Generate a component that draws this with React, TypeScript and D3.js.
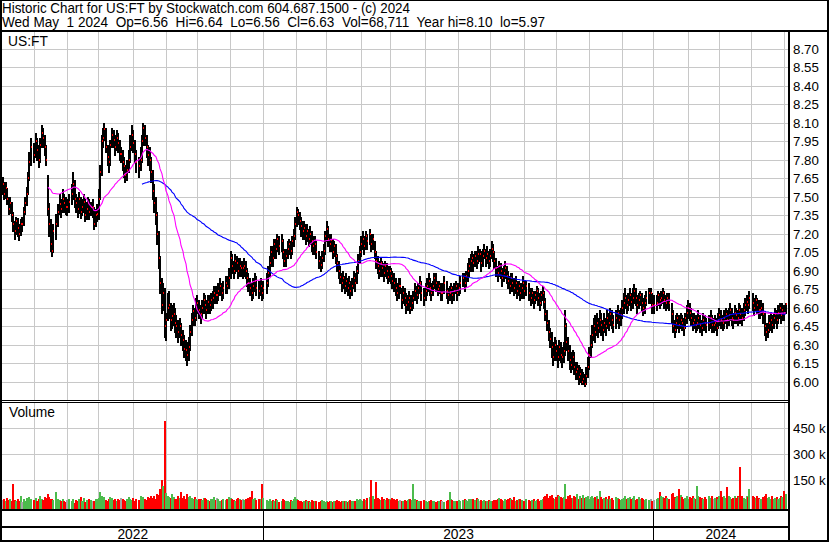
import React, { useEffect } from "react";
import * as d3 from "d3";

// ---------- texts ----------
const TITLE_LINE_1 = "Historic Chart for US:FT by Stockwatch.com 604.687.1500 - (c) 2024";
const TITLE_LINE_2 = "Wed May  1 2024  Op=6.56  Hi=6.64  Lo=6.56  Cl=6.63  Vol=68,711  Year hi=8.10  lo=5.97";
const SYMBOL = "US:FT";
const VOLUME_LABEL = "Volume";

// ---------- calendar ----------
const FIRST_DAY = "2022-05-02";
const LAST_DAY = "2024-05-01";
const HOLIDAYS = [
  "2022-05-30", "2022-06-20", "2022-07-04", "2022-09-05", "2022-11-24", "2022-12-26",
  "2023-01-02", "2023-01-16", "2023-02-20", "2023-04-07", "2023-05-29", "2023-06-19",
  "2023-07-04", "2023-09-04", "2023-11-23", "2023-12-25",
  "2024-01-01", "2024-01-15", "2024-02-19", "2024-03-29",
];

// ---------- daily prices (cents) ----------
const CLOSE = [
  760,752,757,748,740,745,735,728,722,730,725,720,728,728,738,745,752,
  765,778,790,784,795,788,780,792,802,798,790,
  780,740,728,712,706,722,728,
  738,744,740,748,745,742,742,746,752,760,748,
  745,740,748,738,742,746,735,740,745,738,742,742,728,735,736,748,
  770,795,798,805,790,782,778,792,800,796,790,798,794,785,785,778,775,768,772,
  780,790,800,794,785,778,775,780,795,806,798,790,784,
  780,770,755,745,735,720,700,
  680,662,672,645,650,
  660,662,650,653,655,648,645,640,645,638,
  634,627,626,622,628,
  640,650,657,652,661,664,658,
  655,660,666,662,658,665,662,666,
  668,672,670,670,674,678,672,676,680,678,684,
  700,694,690,698,696,690,694,692,692,694,690,
  684,680,676,672,678,682,676,674,678,672,676,680,
  688,696,705,700,712,708,716,710,714,
  705,698,702,708,712,706,714,718,
  728,738,735,730,726,722,
  725,718,722,716,720,714,710,712,
  705,698,695,700,706,
  718,724,716,
  712,715,705,710,702,696,
  690,685,680,684,678,682,676,680,674,678,684,680,
  690,698,705,
  712,716,710,718,714,720,712,716,705,
  698,694,690,696,692,688,694,690,685,690,686,682,
  680,676,672,678,678,666,672,668,662,665,668,660,664,
  668,674,670,676,680,672,668,674,678,
  682,676,672,678,684,680,675,678,672,672,680,674,670,
  672,676,670,674,678,672,676,680,684,680,686,690,694,698,
  700,696,702,698,704,704,696,702,706,700,704,698,702,708,705,
  698,692,688,694,690,684,688,692,686,
  682,678,684,680,676,680,674,678,672,676,680,674,678,
  672,668,672,666,670,674,668,664,670,672,
  665,655,648,640,635,628,620,630,625,620,
  628,622,620,625,645,
  632,625,618,614,620,612,608,
  610,604,606,600,602,598,605,612,
  622,630,638,645,
  640,648,644,650,646,642,
  648,645,652,648,655,650,646,652,656,650,654,
  660,664,668,662,666,670,665,668,674,
  668,662,666,670,664,660,664,668,672,672,662,662,664,670,666,668,672,666,664,668,664,
  655,645,642,
  648,652,646,650,648,644,652,656,
  660,656,652,648,
  650,646,648,652,646,644,650,648,646,
  648,652,646,646,648,644,650,654,650,648,652,655,650,
  654,658,652,650,656,654,652,658,655,652,658,662,
  665,662,668,664,660,666,662,658,658,660,655,
  645,640,642,648,
  650,646,652,655,650,
  656,660,654,658,656,663,
];

const HIGH = [
  766,762,762,757,750,750,746,738,730,734,733,728,732,734,742,750,758,
  770,786,798,794,802,798,792,798,808,806,800,
  792,768,745,732,720,728,736,
  744,752,748,756,752,750,748,752,760,770,764,
  752,750,754,750,748,752,748,746,750,748,746,748,742,740,744,756,
  776,800,806,810,806,792,786,796,806,804,800,804,802,796,790,788,782,776,780,
  788,800,808,804,796,788,782,790,800,810,808,800,792,
  790,782,772,760,750,738,722,
  702,684,680,676,656,
  672,674,664,662,664,660,654,650,652,648,
  642,638,634,632,636,
  646,656,662,660,668,670,666,
  662,666,672,670,666,670,670,672,
  674,678,678,676,680,684,680,682,686,686,692,
  706,704,698,704,702,700,700,698,698,700,698,
  692,688,684,680,684,688,686,682,684,680,682,688,
  694,702,710,710,716,716,720,718,720,
  716,708,708,714,716,714,718,724,
  734,742,740,738,734,730,
  730,728,728,724,726,722,718,718,
  714,706,702,706,712,
  722,730,726,
  720,720,716,714,712,704,
  698,694,688,690,686,688,684,686,682,684,690,688,
  694,704,710,
  718,722,718,722,720,724,720,720,714,
  706,702,698,700,698,696,698,696,694,694,692,690,
  688,684,680,684,684,676,678,676,672,670,674,670,670,
  674,680,678,680,686,682,676,680,684,
  688,684,680,682,688,688,682,682,680,680,686,682,676,
  678,680,678,680,682,680,680,686,688,688,690,696,700,704,
  706,704,706,706,710,708,706,708,712,708,710,706,708,714,712,
  706,700,694,698,696,692,694,698,694,
  690,686,688,688,684,686,682,682,680,680,686,682,682,
  680,676,676,674,674,678,676,672,674,678,
  674,668,658,650,644,640,632,636,634,630,
  634,632,628,632,658,
  648,636,630,624,626,624,616,
  616,614,612,610,608,606,612,620,
  628,638,646,652,
  654,656,652,658,656,650,
  656,652,658,656,660,658,654,658,662,658,660,
  666,672,676,670,672,676,672,676,679,
  676,670,672,674,672,668,670,674,676,676,672,670,670,674,672,674,676,674,670,672,672,
  664,658,650,
  654,656,654,656,654,652,656,662,
  666,664,660,656,
  656,654,654,658,654,650,656,654,652,
  654,658,654,652,654,652,656,660,658,654,658,660,658,
  660,664,660,656,662,660,658,664,662,660,664,668,
  670,668,674,672,668,670,668,666,664,666,664,
  656,648,648,654,
  656,654,656,660,658,
  662,664,662,664,662,664,
];

const LOW = [
  752,748,749,744,736,737,730,722,716,720,718,715,719,722,727,736,743,
  752,764,776,778,782,780,774,778,790,790,784,
  776,735,718,706,702,705,716,
  726,736,734,738,738,736,735,738,744,748,742,
  738,734,737,733,735,738,730,732,736,732,735,734,724,726,730,732,
  748,768,790,796,786,776,770,776,790,790,784,788,786,780,778,772,766,762,764,
  770,778,788,786,778,770,766,772,778,792,792,782,776,
  772,762,748,738,728,712,692,
  672,656,658,636,634,
  650,652,642,644,646,640,636,632,636,630,
  626,620,618,614,618,
  626,638,646,646,650,656,652,
  648,652,656,656,652,656,656,658,
  660,664,664,664,666,670,666,668,672,672,676,
  684,688,684,688,690,684,686,686,684,686,684,
  678,674,670,666,668,674,670,668,670,666,668,672,
  678,686,694,694,700,700,706,704,706,
  700,694,694,700,704,700,704,710,
  716,726,728,724,718,716,
  716,712,714,710,712,706,704,704,
  700,692,690,692,698,
  704,714,710,
  706,706,700,702,696,690,
  684,680,674,676,672,674,670,672,668,670,676,674,
  680,688,696,
  702,708,704,708,708,712,706,708,700,
  692,688,684,686,686,682,686,684,680,682,680,676,
  674,670,666,668,672,660,664,662,656,658,662,656,658,
  660,666,664,668,672,666,662,666,670,
  674,670,666,670,676,674,670,672,666,666,672,668,664,
  666,668,664,666,672,666,670,672,678,674,678,682,686,690,
  692,690,694,692,696,698,690,694,700,694,696,692,694,700,698,
  692,686,682,686,684,678,682,684,680,
  676,672,676,674,670,672,668,670,666,668,672,668,670,
  666,662,664,660,664,666,662,658,662,666,
  660,650,642,634,628,620,614,618,618,612,
  618,616,612,616,622,
  626,618,610,608,610,606,602,
  602,598,600,598,598,597,598,604,
  610,620,628,634,
  632,638,636,640,638,634,
  640,638,644,642,646,644,640,644,648,644,646,
  652,656,660,656,658,662,658,660,664,
  662,656,660,662,658,654,656,662,664,664,656,656,658,662,660,662,664,660,658,660,658,
  648,640,636,
  640,644,640,644,642,638,644,648,
  652,650,646,642,
  644,640,642,644,640,638,642,642,640,
  642,644,640,640,642,638,644,646,644,642,644,648,644,
  646,650,646,644,648,648,646,650,648,646,650,654,
  658,656,660,658,654,658,656,652,652,654,648,
  638,634,636,640,
  642,640,644,648,644,
  648,652,648,650,650,656,
];

// ---------- daily volume (thousands of shares) ----------
const VOLUME = [
  35,42,28,50,38,44,30,130,36,28,45,32,60,25,40,30,48,35,55,42,
  38,50,30,45,62,40,35,55,48,70,52,40,45,38,80,42,35,28,40,30,
  25,38,45,30,42,20,35,28,40,55,32,48,25,38,30,42,35,28,30,45,
  40,50,82,60,45,52,38,30,42,55,48,35,40,28,45,38,50,42,35,30,
  45,55,40,35,48,30,42,38,60,45,52,40,35,55,48,62,50,58,45,70,
  65,100,153,120,493,75,60,55,48,70,52,45,40,58,50,85,48,60,45,70,
  55,62,48,40,52,45,38,44,40,35,48,50,42,38,30,45,40,52,35,48,
  42,30,38,45,35,40,55,48,42,38,30,45,50,40,35,42,38,45,40,48,
  55,90,42,50,38,45,40,130,48,35,30,40,28,35,32,45,38,25,30,40,
  35,28,32,25,38,30,45,55,40,35,30,28,25,32,35,28,30,25,35,30,
  28,32,25,30,35,28,22,30,25,28,32,25,30,28,35,30,25,28,32,30,
  28,25,30,35,28,32,30,40,35,45,38,30,42,35,48,55,153,60,40,140,
  50,45,38,55,42,35,48,40,45,38,50,42,35,40,30,35,28,32,38,30,
  35,40,42,38,130,45,35,30,28,32,35,28,25,30,32,35,28,30,25,32,
  28,35,30,25,32,38,85,40,35,30,28,32,35,30,38,42,35,30,40,45,
  38,42,35,48,40,30,35,32,38,28,30,35,32,28,30,38,35,42,50,40,
  35,30,45,38,42,48,40,35,52,30,38,45,42,35,28,32,40,38,30,35,
  42,32,38,45,30,35,40,55,62,70,48,58,65,50,45,55,68,60,52,48,
  55,127,45,58,65,50,48,62,55,70,45,58,50,65,48,52,60,45,55,62,
  48,55,60,45,90,52,40,48,55,42,60,45,50,38,55,48,42,35,45,50,
  58,40,48,55,42,50,60,38,45,52,40,48,42,35,45,38,40,32,38,45,
  50,80,60,55,48,62,50,45,70,75,55,48,60,98,65,55,42,50,60,45,
  55,48,62,50,45,118,60,52,48,40,55,45,58,50,62,40,48,55,45,60,
  90,52,58,48,110,62,55,45,50,58,48,60,55,225,62,50,45,58,52,98,
  60,55,48,62,50,45,40,55,60,70,48,52,45,58,42,50,55,45,48,60,
  52,90,69,
];

// ---------- axes ----------
const PRICE_TICKS = [6.0, 6.15, 6.3, 6.45, 6.6, 6.75, 6.9, 7.05, 7.2, 7.35, 7.5, 7.65, 7.8, 7.95, 8.1, 8.25, 8.4, 8.55, 8.7];
const VOLUME_TICKS = [150, 300, 450];
const MA_SHORT = 30;
const MA_LONG = 90;

const FONT = "'Liberation Sans', Arial, sans-serif";
const GRID = "#c8c8c8";
const UP = "#4cbb4c";
const DOWN = "#ff0000";
const FLAT = "#a6a6a6";

export default function App() {
  useEffect(() => {
    document.body.style.margin = "0";
  }, []);

  const W = 830, H = 543;
  const plotL = 2, plotR = 788;

  const parse = d3.timeParse("%Y-%m-%d");
  const fmt = d3.timeFormat("%Y-%m-%d");
  const allDays = d3.timeDay.range(parse(FIRST_DAY)!, d3.timeDay.offset(parse(LAST_DAY)!, 1));
  const weekdays = allDays.filter((d) => d.getDay() !== 0 && d.getDay() !== 6);
  const hol = new Set(HOLIDAYS);
  const trading = weekdays.map((d, w) => ({ d, w })).filter((o) => !hol.has(fmt(o.d)));

  const n = Math.min(trading.length, CLOSE.length, HIGH.length, LOW.length, VOLUME.length);
  const bars = d3.range(n).map((i) => ({
    w: trading[i].w,
    c: CLOSE[i] / 100,
    h: HIGH[i] / 100,
    l: LOW[i] / 100,
    v: VOLUME[i],
    dir: i === 0 ? 0 : Math.sign(CLOSE[i] - CLOSE[i - 1]),
  }));

  const x = d3.scaleLinear().domain([0, weekdays.length - 1]).range([2, 785]);
  const yP = d3.scaleLinear().domain([5.85, 8.85]).range([400.3, 30.3]);
  const yV = d3.scaleLinear().domain([0, 600]).range([506.3, 402.3]);
  const bx = (w: number) => Math.floor(x(w));

  // month / year boundaries
  const months: { w: number; year: boolean }[] = [];
  weekdays.forEach((d, w) => {
    if (w > 0 && d.getMonth() !== weekdays[w - 1].getMonth()) {
      months.push({ w, year: d.getFullYear() !== weekdays[w - 1].getFullYear() });
    }
  });
  const gx = (w: number) => Math.floor(x(w) - 1) + 0.5;
  const yearEdges = [plotL, ...months.filter((m) => m.year).map((m) => gx(m.w)), plotR];
  const years = Array.from(new Set(weekdays.map((d) => d.getFullYear())));

  const movingAvg = (p: number) =>
    bars
      .map((b, i) => (i >= p - 1 ? { w: b.w, v: d3.mean(bars.slice(i - p + 1, i + 1), (q) => q.c)! } : null))
      .filter((q): q is { w: number; v: number } => q !== null);
  const maShort = movingAvg(MA_SHORT);
  const maLong = movingAvg(MA_LONG);
  const line = d3
    .line<{ w: number; v: number }>()
    .x((q) => bx(q.w) + 1)
    .y((q) => yP(q.v));

  const textStyle = { fontFamily: FONT, fontSize: 13.3, fill: "#000" } as const;

  return (
    <svg
      width={W}
      height={H}
      viewBox={`0 0 ${W} ${H}`}
      style={{ position: "absolute", left: 0, top: 0, display: "block", background: "#fff" }}
    >
      <rect x={0} y={0} width={W} height={H} fill="#fff" />
      <defs>
        <clipPath id="pclip">
          <rect x={plotL} y={32} width={plotR - plotL} height={368} />
        </clipPath>
      </defs>

      {/* grid */}
      <g shapeRendering="crispEdges" stroke={GRID} strokeWidth={1}>
        {months.map((m) => (
          <g key={m.w}>
            <line x1={gx(m.w)} x2={gx(m.w)} y1={32} y2={400} />
            <line x1={gx(m.w)} x2={gx(m.w)} y1={403} y2={509} />
          </g>
        ))}
        {PRICE_TICKS.map((t) => (
          <line key={t} x1={plotL} x2={plotR} y1={Math.round(yP(t)) + 0.5} y2={Math.round(yP(t)) + 0.5} />
        ))}
        {VOLUME_TICKS.map((t) => (
          <line key={t} x1={plotL} x2={plotR} y1={Math.round(yV(t)) + 0.5} y2={Math.round(yV(t)) + 0.5} />
        ))}
      </g>

      {/* price bars: high-low strokes, then close ticks on top */}
      <g shapeRendering="crispEdges" clipPath="url(#pclip)">
        {bars.map((b, i) => {
          const top = Math.round(yP(b.h));
          const bot = Math.round(yP(b.l));
          return <rect key={i} x={bx(b.w)} y={top} width={2} height={Math.max(1, bot - top + 1)} fill="#000" />;
        })}
        {bars.map((b, i) => (
          <rect key={"c" + i} x={bx(b.w) + 1} y={Math.round(yP(b.c)) - 1} width={1} height={2} fill={DOWN} />
        ))}
      </g>

      {/* moving averages */}
      <g clipPath="url(#pclip)" fill="none" strokeWidth={1.1}>
        <path d={line(maLong) || ""} stroke="#0000ff" />
        <path d={line(maShort) || ""} stroke="#ff00ff" />
      </g>

      {/* volume bars */}
      <g shapeRendering="crispEdges">
        {bars.map((b, i) => {
          const top = Math.round(yV(b.v));
          return (
            <rect
              key={i}
              x={bx(b.w)}
              y={top}
              width={2}
              height={509 - top}
              fill={b.dir > 0 ? UP : b.dir < 0 ? DOWN : FLAT}
            />
          );
        })}
      </g>

      {/* frame */}
      <g shapeRendering="crispEdges" fill="#000">
        <rect x={0} y={0} width={829} height={1} />
        <rect x={0} y={0} width={2} height={542} />
        <rect x={827} y={0} width={2} height={542} />
        <rect x={0} y={540} width={829} height={2} />
        <rect x={0} y={30} width={829} height={2} />
        <rect x={788} y={30} width={2} height={512} />
        <rect x={0} y={400} width={788} height={1} />
        <rect x={0} y={402} width={788} height={1} />
        <rect x={0} y={509} width={788} height={2} />
        <rect x={0} y={526} width={788} height={2} />
        {yearEdges.slice(1, -1).map((e, i) => (
          <rect key={i} x={Math.floor(e)} y={511} width={1} height={29} />
        ))}
      </g>

      {/* texts */}
      <text x={2} y={13} textLength={408} lengthAdjust="spacingAndGlyphs" style={{ ...textStyle, fontSize: 13.8, whiteSpace: "pre" }}>
        {TITLE_LINE_1}
      </text>
      <text x={2} y={27} textLength={543} lengthAdjust="spacingAndGlyphs" style={{ ...textStyle, fontSize: 13.8, whiteSpace: "pre" }}>
        {TITLE_LINE_2}
      </text>
      <text x={8} y={46} style={{ ...textStyle, fontSize: 13.8 }}>{SYMBOL}</text>
      <text x={9} y={417} style={{ ...textStyle, fontSize: 13.8 }}>{VOLUME_LABEL}</text>

      {PRICE_TICKS.map((t) => (
        <text key={t} x={793} y={Math.round(yP(t)) + 5} style={textStyle}>{t.toFixed(2)}</text>
      ))}
      {VOLUME_TICKS.map((t) => (
        <text key={t} x={793} y={Math.round(yV(t)) + 5} style={textStyle}>{`${t} k`}</text>
      ))}
      {years.map((yr, i) => (
        <text
          key={yr}
          x={(yearEdges[i] + yearEdges[i + 1]) / 2}
          y={539}
          textAnchor="middle"
          style={{ ...textStyle, fontSize: 13.8 }}
        >
          {String(yr)}
        </text>
      ))}
    </svg>
  );
}
